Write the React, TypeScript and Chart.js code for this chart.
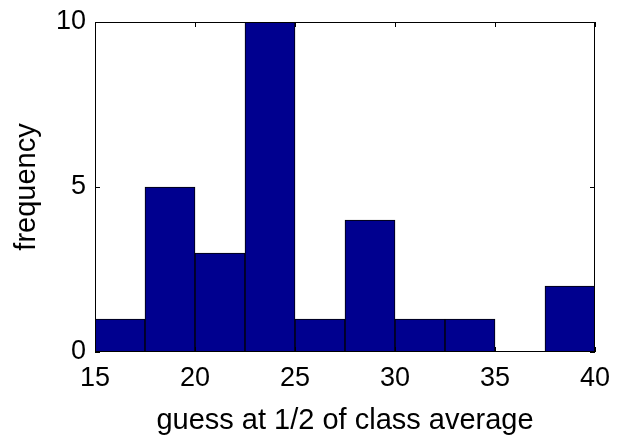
import React, { useEffect, useRef } from "react";
import { Chart, registerables } from "chart.js";

Chart.register(...registerables);

const binCenters = [16.25, 18.75, 21.25, 23.75, 26.25, 28.75, 31.25, 33.75, 36.25, 38.75];
const frequencies = [1, 5, 3, 10, 1, 4, 1, 1, 0, 2];
const xTitle = "guess at 1/2 of class average";
const yTitle = "frequency";

const FONT = "'Liberation Sans', Arial, Helvetica, sans-serif";

const framePlugin = {
  id: "matlabFrame",
  afterDatasetsDraw(chart: any) {
    const { ctx, chartArea, scales } = chart;
    const { left, right, top, bottom } = chartArea;
    const xs = scales.x;
    const ys = scales.y;
    const tl = 5;
    ctx.save();
    ctx.strokeStyle = "#000";
    ctx.lineWidth = 1;
    ctx.beginPath();
    ctx.rect(left + 0.5, top + 0.5, right - left - 1, bottom - top - 1);
    xs.ticks.forEach((t: any) => {
      const px = Math.round(xs.getPixelForValue(t.value)) + 0.5;
      ctx.moveTo(px, bottom);
      ctx.lineTo(px, bottom - tl);
      ctx.moveTo(px, top);
      ctx.lineTo(px, top + tl);
    });
    ys.ticks.forEach((t: any) => {
      const py = Math.round(ys.getPixelForValue(t.value)) + 0.5;
      ctx.moveTo(left, py);
      ctx.lineTo(left + tl, py);
      ctx.moveTo(right, py);
      ctx.lineTo(right - tl, py);
    });
    ctx.stroke();
    ctx.restore();
  },
};

export default function App() {
  const canvasRef = useRef<HTMLCanvasElement>(null);

  useEffect(() => {
    if (!canvasRef.current) return;
    const chart = new Chart(canvasRef.current, {
      type: "bar",
      data: {
        datasets: [
          {
            data: binCenters.map((c, i) => ({ x: c, y: frequencies[i] })),
            backgroundColor: "rgb(0,0,143)",
            borderColor: "#000",
            borderWidth: 1,
            borderSkipped: false,
            barPercentage: 1,
            categoryPercentage: 1,
          } as any,
        ],
      },
      options: {
        animation: false,
        responsive: true,
        maintainAspectRatio: false,
        layout: { padding: { top: 22, right: 30, left: 0, bottom: 0 } },
        plugins: { legend: { display: false }, tooltip: { enabled: false } },
        scales: {
          x: {
            type: "linear",
            min: 15,
            max: 40,
            offset: false,
            grid: { display: false, drawTicks: false, offset: false },
            border: { display: false },
            ticks: {
              stepSize: 5,
              padding: 10,
              color: "#000",
              font: { family: FONT, size: 27 },
              maxRotation: 0,
            },
            title: {
              display: true,
              text: xTitle,
              color: "#000",
              font: { family: FONT, size: 29 },
              padding: { top: 0, bottom: 3 },
            },
            afterFit(scale: any) {
              scale.height = 89;
              scale.paddingLeft = 0;
              scale.paddingRight = 0;
            },
          },
          y: {
            min: 0,
            max: 10,
            grid: { display: false, drawTicks: false },
            border: { display: false },
            ticks: {
              stepSize: 5,
              padding: 9,
              color: "#000",
              font: { family: FONT, size: 27 },
            },
            title: {
              display: true,
              text: yTitle,
              color: "#000",
              font: { family: FONT, size: 29 },
              padding: { top: 10, bottom: 0 },
            },
            afterFit(scale: any) {
              scale.width = 95;
              scale.paddingTop = 0;
              scale.paddingBottom = 0;
            },
          },
        },
      },
      plugins: [framePlugin],
    });
    return () => chart.destroy();
  }, []);

  return (
    <div style={{ position: "absolute", left: 0, top: 0, width: 625, height: 441, background: "#fff" }}>
      <canvas ref={canvasRef} />
    </div>
  );
}
